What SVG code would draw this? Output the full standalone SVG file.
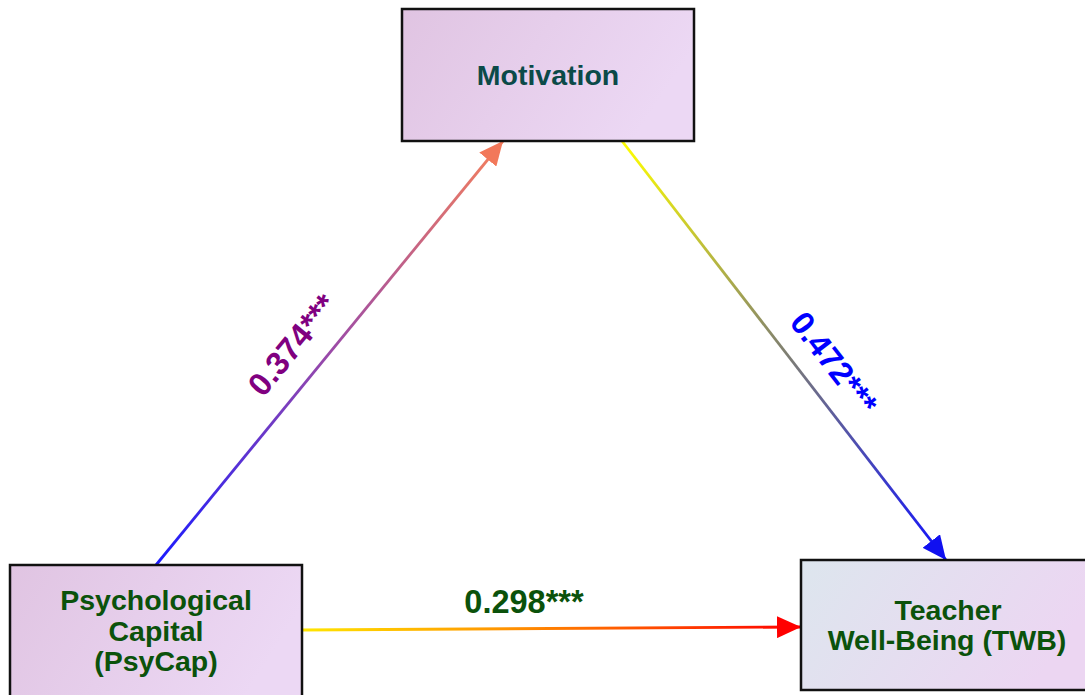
<svg xmlns="http://www.w3.org/2000/svg" width="1085" height="695" viewBox="0 0 1085 695">
<style>
.box{stroke:#111;stroke-width:2.5}
.nt{font-family:"Liberation Sans",Arial,sans-serif;font-weight:bold;font-size:28.5px;text-anchor:middle}
.lbl{font-family:"Liberation Sans",Arial,sans-serif;font-weight:bold;font-size:32.5px;text-anchor:middle}
.edge{fill:none;stroke-width:2.8}
</style>
<defs>
<linearGradient id="gPurple" x1="0" y1="0" x2="1" y2="0.3">
<stop offset="0" stop-color="#e0c4e2"/><stop offset="1" stop-color="#ecd8f4"/>
</linearGradient>
<linearGradient id="gTwb" x1="0" y1="0" x2="1" y2="0.3">
<stop offset="0" stop-color="#dde6ee"/><stop offset="1" stop-color="#ecd6f2"/>
</linearGradient>
<linearGradient id="e1" gradientUnits="userSpaceOnUse" x1="156" y1="565" x2="503" y2="141">
<stop offset="0" stop-color="#1a1aff"/><stop offset="0.5" stop-color="#9a4aa8"/><stop offset="1" stop-color="#f5805c"/>
</linearGradient>
<linearGradient id="e2" gradientUnits="userSpaceOnUse" x1="622" y1="141" x2="946" y2="560">
<stop offset="0" stop-color="#ffff00"/><stop offset="0.5" stop-color="#808070"/><stop offset="1" stop-color="#1010ff"/>
</linearGradient>
<linearGradient id="e3" gradientUnits="userSpaceOnUse" x1="302" y1="630" x2="801" y2="627">
<stop offset="0" stop-color="#ffe600"/><stop offset="0.45" stop-color="#ff8a00"/><stop offset="1" stop-color="#ff0000"/>
</linearGradient>
<marker id="m1" markerUnits="userSpaceOnUse" markerWidth="26" markerHeight="22" refX="24" refY="11" orient="auto">
<path d="M0,0 L24,11 L0,22 Z" fill="#f2785a"/>
</marker>
<marker id="m2" markerUnits="userSpaceOnUse" markerWidth="26" markerHeight="22" refX="24" refY="11" orient="auto">
<path d="M0,0 L24,11 L0,22 Z" fill="#1010f0"/>
</marker>
<marker id="m3" markerUnits="userSpaceOnUse" markerWidth="26" markerHeight="22" refX="24" refY="11" orient="auto">
<path d="M0,0 L24,11 L0,22 Z" fill="#ff0000"/>
</marker>
</defs>
<rect width="1085" height="695" fill="#ffffff"/>
<g id="connectors">
<path class="edge" d="M156,565 L503,141" stroke="url(#e1)" marker-end="url(#m1)"/>
<path class="edge" d="M622,141 L946,560" stroke="url(#e2)" marker-end="url(#m2)"/>
<path class="edge" d="M302,630 L801,627" stroke="url(#e3)" marker-end="url(#m3)"/>
<text class="lbl" fill="#800080" transform="translate(301,352) rotate(-50.7)">0.374***</text>
<text class="lbl" fill="#0000ff" transform="translate(825,370) rotate(52.3)">0.472***</text>
<text class="lbl" fill="#0b520b" x="524" y="613">0.298***</text>
</g>
<g id="node-motivation">
<rect class="box" x="402" y="9" width="292" height="132" fill="url(#gPurple)"/>
<text class="nt" fill="#0b4a48" x="548" y="85">Motivation</text>
</g>
<g id="node-psycap">
<rect class="box" x="10" y="565" width="292" height="140" fill="url(#gPurple)"/>
<text class="nt" fill="#0b520b" x="156" y="610">Psychological</text>
<text class="nt" fill="#0b520b" x="156" y="641">Capital</text>
<text class="nt" fill="#0b520b" x="156" y="671">(PsyCap)</text>
</g>
<g id="node-twb">
<rect class="box" x="801" y="560" width="292" height="130" fill="url(#gTwb)"/>
<text class="nt" fill="#0b520b" x="948" y="620">Teacher</text>
<text class="nt" fill="#0b520b" x="947" y="650">Well-Being (TWB)</text>
</g>
</svg>
